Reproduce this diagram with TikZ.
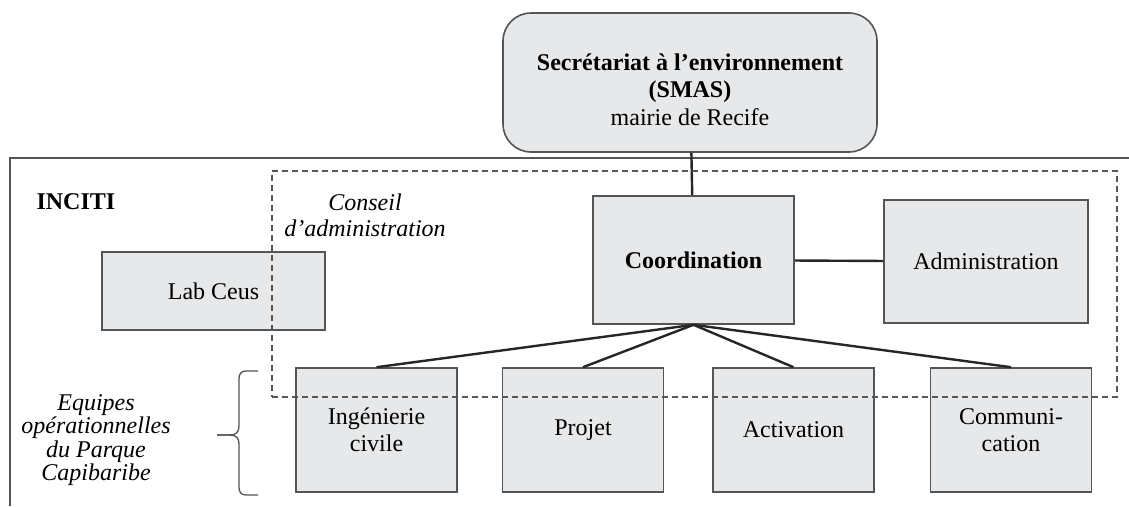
\documentclass[tikz,border=0pt]{standalone}
\usepackage{fontspec}
\setmainfont{Liberation Serif}
\definecolor{boxfill}{RGB}{230,232,233}
\definecolor{edgegray}{RGB}{85,85,85}
\newcommand{\orgsize}{\fontsize{24pt}{27.5pt}\selectfont}

\begin{document}
\begin{tikzpicture}[x = 1pt, y = -1pt, font = \orgsize,
                    unit/.style = {draw = edgegray, fill = boxfill, line width = 1.6pt, inner sep = 0pt, align = center},
                    team/.style = {unit, minimum width = 161pt, minimum height = 124pt},
                    link/.style = {line width = 2.4pt, black!85},
                    curly/.style = {line width = 1.3pt, edgegray}]

\useasboundingbox (0,0) rectangle (1129,506);

% INCITI frame
\draw[edgegray, line width = 1.5pt] (10,506) |- (1129,158);
\node[anchor = west] (inciti) at (33,202) {\textbf{INCITI}};

% top of the chart
\node[unit, rounded corners = 28pt, minimum width = 374pt, minimum height = 139pt] (smas) at (690,82.5)
     {\rule{0pt}{31pt}\textbf{Secrétariat à l’environnement}\\ \textbf{(SMAS)}\\ mairie de Recife};

\node[unit, minimum width = 201pt, minimum height = 128pt] (coord) at (693.5,260) {\textbf{Coordination}};
\node[unit, minimum width = 204pt, minimum height = 123pt] (admin) at (986,261.5) {Administration};
\node[unit, minimum width = 223pt, minimum height = 78pt] (lab) at (213.5,291) {Lab Ceus};

% operational teams
\node[team] (genie) at (376.5,430) {Ingénierie\\ civile};
\node[team] (projet) at (583,430) {Projet};
\node[team] (activ) at (793.5,430) {Activation};
\node[team] (comm) at (1011,430) {Communi-\\ cation};

\draw[link] (smas) -- (coord);
\draw[link] (coord) -- (admin);
\draw[link] (coord.south) -- (genie.north);
\draw[link] (coord.south) -- (projet.north);
\draw[link] (coord.south) -- (activ.north);
\draw[link] (coord.south) -- (comm.north);

% board
\node[draw = edgegray, dash pattern = on 6pt off 4pt, line width = 1.2pt, inner sep = 0pt,
      minimum width = 845pt, minimum height = 226pt] (board) at (694.5,284) {};
\node[align = center, font = \fontsize{24pt}{26pt}\selectfont\itshape] (boardname) at (365,215) {Conseil\\ d’administration};

% brace
\coordinate (braceTop) at (258,371);
\coordinate (braceTip) at (217,435);
\coordinate (braceBot) at (258,495);
\draw[curly] (braceTop) -- (246,371) .. controls (241,371) and (239,374) .. (239,379) -- (239,426)
             .. controls (239,432) and (236,435) .. (230,435) -- (braceTip);
\draw[curly] (braceTip) -- (230,435) .. controls (236,435) and (239,438) .. (239,444) -- (239,487)
             .. controls (239,492) and (241,495) .. (246,495) -- (braceBot);
\node[align = center, font = \fontsize{24pt}{23.5pt}\selectfont\itshape] (equipes) at (96,440)
     {Equipes\\ opérationnelles\\ du Parque\\ Capibaribe};
\end{tikzpicture}
\end{document}
